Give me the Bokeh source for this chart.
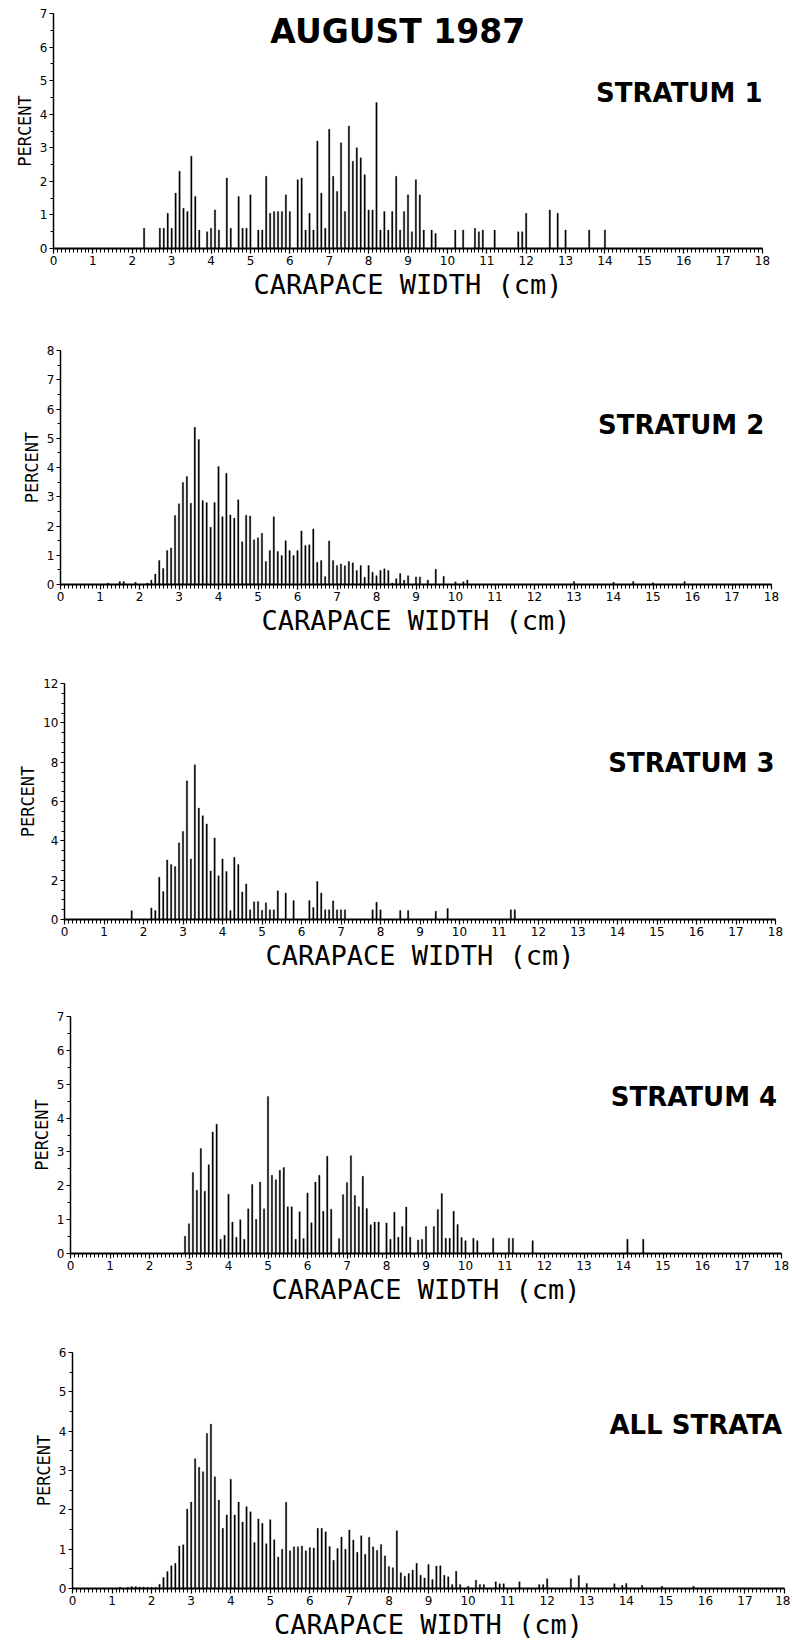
from bokeh.plotting import figure
from bokeh.layouts import column, row
from bokeh.models import Range1d, Label, SingleIntervalTicker
from bokeh.embed import file_html
from bokeh.resources import INLINE

TITLE = "AUGUST 1987"
X_LABEL = "CARAPACE WIDTH (cm)"
Y_LABEL = "PERCENT"

# ---- Stratum 1 ----
s1_cw = [2.3, 2.7, 2.8, 2.9, 3.0, 3.1, 3.2, 3.3, 3.4, 3.5,
         3.6, 3.7, 3.9, 4.0, 4.1, 4.2, 4.4, 4.5, 4.7, 4.8,
         4.9, 5.0, 5.2, 5.3, 5.4, 5.5, 5.6, 5.7, 5.8, 5.9,
         6.0, 6.2, 6.3, 6.4, 6.5, 6.6, 6.7, 6.8, 6.9, 7.0,
         7.1, 7.2, 7.3, 7.4, 7.5, 7.6, 7.7, 7.8, 7.9, 8.0,
         8.1, 8.2, 8.3, 8.4, 8.5, 8.6, 8.7, 8.8, 8.9, 9.0,
         9.1, 9.2, 9.3, 9.4, 9.6, 9.7, 10.2, 10.4, 10.7, 10.8,
         10.9, 11.2, 11.8, 11.9, 12.0, 12.6, 12.8, 13.0, 13.6, 14.0]
s1_pct = [0.6, 0.6, 0.6, 1.05, 0.6, 1.65, 2.3, 1.2, 1.1, 2.75,
          1.55, 0.55, 0.5, 0.6, 1.15, 0.55, 2.1, 0.6, 1.55, 0.6,
          0.6, 1.6, 0.55, 0.55, 2.15, 1.05, 1.1, 1.1, 1.1, 1.6,
          1.1, 2.05, 2.1, 0.55, 1.05, 0.55, 3.2, 1.65, 0.6, 3.55,
          2.15, 1.7, 3.15, 1.1, 3.65, 2.6, 3.0, 2.7, 2.2, 1.15,
          1.15, 4.35, 0.55, 1.1, 0.55, 1.1, 2.15, 0.55, 1.1, 1.6,
          0.5, 2.05, 1.6, 0.55, 0.55, 0.45, 0.55, 0.55, 0.6, 0.5,
          0.55, 0.55, 0.5, 0.5, 1.05, 1.15, 1.05, 0.55, 0.55, 0.55]

# ---- Stratum 2 ----
s2_cw = [1.2, 1.5, 1.6, 1.9, 2.2, 2.3, 2.4, 2.5, 2.6, 2.7,
         2.8, 2.9, 3.0, 3.1, 3.2, 3.3, 3.4, 3.5, 3.6, 3.7,
         3.8, 3.9, 4.0, 4.1, 4.2, 4.3, 4.4, 4.5, 4.6, 4.7,
         4.8, 4.9, 5.0, 5.1, 5.2, 5.3, 5.4, 5.5, 5.6, 5.7,
         5.8, 5.9, 6.0, 6.1, 6.2, 6.3, 6.4, 6.5, 6.6, 6.7,
         6.8, 6.9, 7.0, 7.1, 7.2, 7.3, 7.4, 7.5, 7.6, 7.7,
         7.8, 7.9, 8.0, 8.1, 8.2, 8.3, 8.4, 8.5, 8.6, 8.7,
         8.8, 9.0, 9.1, 9.3, 9.5, 9.7, 10.0, 10.2, 10.3, 13.0,
         14.0, 14.5, 15.0, 15.8]
s2_pct = [0.05, 0.1, 0.1, 0.08, 0.05, 0.15, 0.36, 0.82, 0.55, 1.16,
          1.25, 2.36, 2.76, 3.49, 3.69, 2.78, 5.38, 4.96, 2.87, 2.8,
          1.96, 2.8, 4.03, 2.32, 3.8, 2.38, 2.27, 2.9, 1.46, 2.37,
          2.34, 1.53, 1.6, 1.75, 0.79, 1.16, 2.32, 1.13, 0.99, 1.5,
          1.16, 0.99, 1.16, 1.83, 1.33, 1.36, 1.9, 0.76, 0.82, 0.27,
          1.49, 0.82, 0.65, 0.7, 0.64, 0.79, 0.74, 0.48, 0.65, 0.25,
          0.65, 0.42, 0.3, 0.48, 0.54, 0.48, 0.05, 0.2, 0.38, 0.15,
          0.3, 0.26, 0.26, 0.15, 0.52, 0.28, 0.09, 0.09, 0.15, 0.1,
          0.08, 0.1, 0.06, 0.1]

# ---- Stratum 3 ----
s3_cw = [1.7, 2.2, 2.3, 2.4, 2.5, 2.6, 2.7, 2.8, 2.9, 3.0,
         3.1, 3.2, 3.3, 3.4, 3.5, 3.6, 3.7, 3.8, 3.9, 4.0,
         4.1, 4.2, 4.3, 4.4, 4.5, 4.6, 4.7, 4.8, 4.9, 5.0,
         5.1, 5.2, 5.3, 5.4, 5.6, 5.8, 6.2, 6.3, 6.4, 6.5,
         6.6, 6.7, 6.8, 6.9, 7.0, 7.1, 7.8, 7.9, 8.0, 8.5,
         8.7, 9.4, 9.7, 11.3, 11.4]
s3_pct = [0.45, 0.59, 0.46, 2.15, 1.42, 3.03, 2.8, 2.69, 3.9, 4.48,
          7.05, 3.08, 7.87, 5.67, 5.28, 4.86, 2.47, 4.15, 2.22, 3.08,
          2.44, 0.46, 3.16, 2.8, 1.4, 1.81, 0.49, 0.9, 0.91, 0.47,
          0.85, 0.49, 0.49, 1.46, 1.35, 0.96, 0.96, 0.61, 1.93, 1.35,
          0.5, 0.5, 0.95, 0.49, 0.49, 0.49, 0.49, 0.88, 0.49, 0.46,
          0.46, 0.42, 0.56, 0.5, 0.5]

# ---- Stratum 4 ----
s4_cw = [2.9, 3.0, 3.1, 3.2, 3.3, 3.4, 3.5, 3.6, 3.7, 3.8,
         3.9, 4.0, 4.1, 4.2, 4.3, 4.4, 4.5, 4.6, 4.7, 4.8,
         4.9, 5.0, 5.1, 5.2, 5.3, 5.4, 5.5, 5.6, 5.7, 5.8,
         5.9, 6.0, 6.1, 6.2, 6.3, 6.4, 6.5, 6.6, 6.8, 6.9,
         7.0, 7.1, 7.2, 7.3, 7.4, 7.5, 7.6, 7.7, 7.8, 8.0,
         8.1, 8.2, 8.3, 8.4, 8.5, 8.6, 8.8, 8.9, 9.0, 9.2,
         9.3, 9.4, 9.5, 9.6, 9.7, 9.8, 9.9, 10.0, 10.2, 10.3,
         10.7, 11.1, 11.2, 11.7, 14.1, 14.5]
s4_pct = [0.51, 0.88, 2.39, 1.87, 3.1, 1.84, 2.62, 3.59, 3.82, 0.42,
          0.54, 1.75, 0.93, 0.48, 1.0, 0.42, 1.32, 2.04, 1.01, 2.11,
          1.32, 4.64, 2.31, 2.18, 2.46, 2.54, 1.38, 1.38, 0.42, 1.23,
          0.44, 1.79, 0.91, 2.11, 2.31, 1.25, 2.87, 1.31, 0.44, 1.74,
          2.1, 2.89, 1.71, 1.38, 2.28, 1.33, 0.85, 0.93, 0.93, 0.9,
          0.42, 1.22, 0.48, 0.8, 1.37, 0.48, 0.4, 0.42, 0.8, 0.8,
          1.3, 1.77, 0.45, 0.45, 1.25, 0.86, 0.47, 0.38, 0.45, 0.38,
          0.45, 0.45, 0.45, 0.38, 0.42, 0.42]

# ---- All strata ----
all_cw = [1.2, 1.4, 1.5, 1.6, 1.7, 1.8, 1.9, 2.0, 2.1, 2.2,
          2.3, 2.4, 2.5, 2.6, 2.7, 2.8, 2.9, 3.0, 3.1, 3.2,
          3.3, 3.4, 3.5, 3.6, 3.7, 3.8, 3.9, 4.0, 4.1, 4.2,
          4.3, 4.4, 4.5, 4.6, 4.7, 4.8, 4.9, 5.0, 5.1, 5.2,
          5.3, 5.4, 5.5, 5.6, 5.7, 5.8, 5.9, 6.0, 6.1, 6.2,
          6.3, 6.4, 6.5, 6.6, 6.7, 6.8, 6.9, 7.0, 7.1, 7.2,
          7.3, 7.4, 7.5, 7.6, 7.7, 7.8, 7.9, 8.0, 8.1, 8.2,
          8.3, 8.4, 8.5, 8.6, 8.7, 8.8, 8.9, 9.0, 9.1, 9.2,
          9.3, 9.4, 9.5, 9.6, 9.7, 9.8, 10.0, 10.2, 10.3, 10.4,
          10.7, 10.8, 10.9, 11.3, 11.8, 11.9, 12.0, 12.6, 12.8, 13.0,
          13.7, 13.9, 14.0, 14.4, 14.9, 15.7]
all_pct = [0.03, 0.03, 0.05, 0.05, 0.04, 0.04, 0.03, 0.03, 0.03, 0.11,
           0.28, 0.43, 0.58, 0.64, 1.08, 1.11, 2.02, 2.2, 3.3, 3.08,
           2.97, 3.94, 4.18, 2.84, 2.25, 1.53, 1.87, 2.78, 1.87, 2.2,
           1.69, 2.08, 1.95, 1.17, 1.77, 1.66, 1.14, 1.75, 1.24, 0.8,
           1.0, 2.19, 0.96, 1.06, 1.06, 1.08, 0.96, 1.04, 1.03, 1.53,
           1.53, 1.44, 1.07, 0.72, 1.02, 1.31, 1.0, 1.49, 1.23, 0.92,
           1.34, 0.87, 1.3, 1.06, 0.97, 1.12, 0.83, 0.56, 0.53, 1.47,
           0.4, 0.31, 0.38, 0.47, 0.64, 0.34, 0.27, 0.61, 0.23, 0.57,
           0.58, 0.34, 0.3, 0.1, 0.44, 0.1, 0.06, 0.21, 0.1, 0.1,
           0.17, 0.12, 0.12, 0.17, 0.1, 0.1, 0.25, 0.25, 0.33, 0.13,
           0.12, 0.08, 0.13, 0.08, 0.06, 0.06]

panel_names = ["STRATUM 1", "STRATUM 2", "STRATUM 3", "STRATUM 4", "ALL STRATA"]
panel_cw = [s1_cw, s2_cw, s3_cw, s4_cw, all_cw]
panel_pct = [s1_pct, s2_pct, s3_pct, s4_pct, all_pct]
y_max = [7, 8, 12, 7, 6]
y_step = [1, 1, 2, 1, 1]
y_minor = [2, 2, 4, 2, 2]

for a, b in zip(panel_cw, panel_pct):
    assert len(a) == len(b), (len(a), len(b))

# layout (pixels)
FIG_W = 790
fig_h = [342, 333, 333, 336, 298]
b_top = [13, 8, 8, 8, 8]
b_bottom = [94, 91, 89, 91, 54]
b_left = [53, 60, 64, 70, 72]
b_right = [28, 19, 15, 9, 6]
# label anchor (data units, right/middle)
lab_x = [18.0, 17.82, 17.98, 17.89, 17.94]
lab_y = [4.64, 5.44, 7.95, 4.62, 4.15]

TICK_FONT = "DejaVu Sans"
PLOT_FONT = "DejaVu Sans Mono"
BOLD_FONT = "DejaVu Sans"

rows = []
for i in range(5):
    p = figure(width=FIG_W, height=fig_h[i],
               x_range=Range1d(0, 18), y_range=Range1d(0, y_max[i]),
               output_backend="svg", toolbar_location=None,
               min_border_top=b_top[i], min_border_bottom=b_bottom[i],
               min_border_left=b_left[i], min_border_right=b_right[i])
    p.vbar(x=panel_cw[i], top=panel_pct[i], bottom=0, width=0.035,
           fill_color="black", line_color="black", line_width=0.3)
    p.xgrid.visible = False
    p.ygrid.visible = False
    p.outline_line_color = None
    p.background_fill_color = "white"
    p.border_fill_color = "white"

    xa = p.xaxis[0]
    xa.ticker = SingleIntervalTicker(interval=1, num_minor_ticks=10)
    xa.axis_line_width = 2
    xa.axis_line_color = "black"
    xa.major_tick_in = 0
    xa.major_tick_out = 5
    xa.minor_tick_in = 0
    xa.minor_tick_out = 4
    xa.major_tick_line_width = 1.2
    xa.minor_tick_line_width = 1
    xa.major_label_text_font = TICK_FONT
    xa.major_label_text_font_size = "12px"
    xa.major_label_text_color = "black"
    xa.major_label_standoff = 2
    xa.axis_label = X_LABEL
    xa.axis_label_text_font = PLOT_FONT
    xa.axis_label_text_font_size = "27px"
    xa.axis_label_text_font_style = "normal"
    xa.axis_label_text_color = "black"
    xa.axis_label_standoff = 1

    ya = p.yaxis[0]
    ya.ticker = SingleIntervalTicker(interval=y_step[i], num_minor_ticks=y_minor[i])
    ya.axis_line_width = 1.5
    ya.axis_line_color = "black"
    ya.major_tick_in = 0
    ya.major_tick_out = 4
    ya.minor_tick_in = 0
    ya.minor_tick_out = 3
    ya.major_label_text_font = TICK_FONT
    ya.major_label_text_font_size = "12px"
    ya.major_label_text_color = "black"
    ya.major_label_standoff = 2
    ya.axis_label = Y_LABEL
    ya.axis_label_text_font = PLOT_FONT
    ya.axis_label_text_font_size = "17px"
    ya.axis_label_text_font_style = "normal"
    ya.axis_label_text_color = "black"
    ya.axis_label_standoff = 2

    p.add_layout(Label(x=lab_x[i], y=lab_y[i], text=panel_names[i],
                       text_align="right", text_baseline="middle",
                       text_font=BOLD_FONT, text_font_style="bold",
                       text_font_size="26px", text_color="black"))
    if i == 0:
        p.add_layout(Label(x=8.74, y=6.46, text=TITLE,
                           text_align="center", text_baseline="middle",
                           text_font=BOLD_FONT, text_font_style="bold",
                           text_font_size="33px", text_color="black"))
    rows.append(row(p))

layout = column(*rows, spacing=0)
open("out.html", "w").write(file_html(layout, INLINE))
